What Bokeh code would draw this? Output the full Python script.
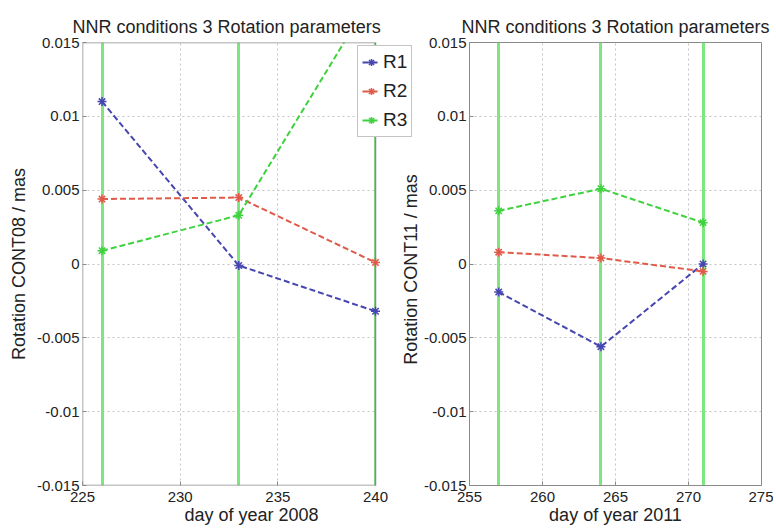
import math
from bokeh.plotting import figure
from bokeh.models import Range1d, FixedTicker, Legend, LegendItem, Label
from bokeh.layouts import row
from bokeh.embed import file_html
from bokeh.resources import INLINE

# ---- data ----
days_2008 = [226, 233, 240]
r1_2008 = [0.0110, -0.0001, -0.0032]
r2_2008 = [0.0044, 0.0045, 0.0001]
r3_2008 = [0.0009, 0.0033, 0.0185]

days_2011 = [257, 264, 271]
r1_2011 = [-0.0019, -0.0056, 0.0000]
r2_2011 = [0.0008, 0.0004, -0.0005]
r3_2011 = [0.0036, 0.0051, 0.0028]

y_ticks = [-0.015, -0.01, -0.005, 0, 0.005, 0.01, 0.015]
y_tick_labels = ["-0.015", "-0.01", "-0.005", "0", "0.005", "0.01", "0.015"]
x_ticks_2008 = [225, 230, 235, 240]
x_ticks_2011 = [255, 260, 265, 270, 275]
x_lim_2008 = (225, 240)
x_lim_2011 = (255, 275)
y_lim = (-0.015, 0.015)

title_text = "NNR conditions 3 Rotation parameters"
series_names = ["R1", "R2", "R3"]
ylabel_2008 = "Rotation CONT08 / mas"
ylabel_2011 = "Rotation CONT11 / mas"
xlabel_2008 = "day of year 2008"
xlabel_2011 = "day of year 2011"

FONT = "Liberation Sans"
C_R1 = "#4646b0"
C_R2 = "#e05a4a"
C_R3 = "#3ed23e"
C_VL = "#7fe67f"
TXT = "#222222"
FRAME = "#8a8a8a"
COLS = (C_R1, C_R2, C_R3)

FH = 443          # frame height
FW1 = 293         # visible box width of left panel
GAP = 45          # extra frame width of left panel (holds legend overhang + right y title)
FW2 = 292


def style(p, xticks):
    p.title.text_font = FONT
    p.title.text_font_size = "18px"
    p.title.text_font_style = "normal"
    p.title.text_color = TXT
    p.title.standoff = 11
    p.background_fill_color = "white"
    p.border_fill_color = "white"
    for ax, ticks in ((p.xaxis[0], xticks), (p.yaxis[0], y_ticks)):
        ax.ticker = FixedTicker(ticks=ticks)
        ax.major_label_text_font = FONT
        ax.major_label_text_font_size = "15px"
        ax.major_label_text_color = TXT
        ax.axis_label_text_font = FONT
        ax.axis_label_text_font_size = "18px"
        ax.axis_label_text_font_style = "normal"
        ax.axis_label_text_color = TXT
        ax.axis_line_color = FRAME
        ax.major_tick_line_color = FRAME
        ax.major_tick_in = 4
        ax.major_tick_out = 0
        ax.minor_tick_line_color = None
    p.yaxis[0].major_label_overrides = {t: l for t, l in zip(y_ticks, y_tick_labels)}
    p.xaxis[0].major_label_overrides = {t: str(t) for t in xticks}
    p.xaxis[0].major_label_standoff = 6
    p.xaxis[0].axis_label_standoff = 0
    p.yaxis[0].major_label_standoff = 3
    p.yaxis[0].axis_label_standoff = 5
    p.xgrid.ticker = FixedTicker(ticks=xticks)
    p.ygrid.ticker = FixedTicker(ticks=y_ticks)
    for g in (p.xgrid, p.ygrid):
        g.grid_line_color = "#c4c4c4"
        g.grid_line_dash = "2 3"
        g.grid_line_width = 1


# ---------------- left panel ----------------
px_per_day = FW1 / (x_lim_2008[1] - x_lim_2008[0])
x_end_2008 = x_lim_2008[1] + GAP / px_per_day
p1 = figure(frame_width=FW1 + GAP, frame_height=FH, output_backend="svg", toolbar_location=None,
            x_range=Range1d(x_lim_2008[0], x_end_2008), y_range=Range1d(*y_lim),
            min_border_left=82, min_border_right=0, min_border_top=42, min_border_bottom=45,
            title=title_text)
style(p1, x_ticks_2008)
p1.title.align = "left"
p1.title.offset = -10
p1.outline_line_color = None
p1.xaxis[0].axis_line_color = None
p1.yaxis[0].axis_line_color = None
p1.xaxis[0].axis_label = xlabel_2008
p1.yaxis[0].axis_label = ylabel_2008

p1.vspan(x=days_2008, line_color=C_VL, line_width=3)
lines1 = []
for vals, col in zip([r1_2008, r2_2008, r3_2008], COLS):
    lines1.append(p1.line(days_2008, vals, line_color=col, line_width=2, line_dash="6 3"))
# blank out the strip right of the axes box (it only holds the legend overhang)
p1.quad(left=[x_lim_2008[1]], right=[x_end_2008], bottom=[y_lim[0]], top=[y_lim[1]],
        fill_color="white", line_color=None)
p1.quad(left=[x_lim_2008[0]], right=[x_lim_2008[1]], bottom=[y_lim[0]], top=[y_lim[1]],
        fill_color=None, line_color=FRAME, line_width=1.5)
items = []
for name, vals, col, ln in zip(series_names, [r1_2008, r2_2008, r3_2008], COLS, lines1):
    m = p1.scatter(days_2008, vals, marker="asterisk", size=9, line_color=col, line_width=1.5)
    items.append(LegendItem(label=name, renderers=[ln, m]))

lg = Legend(items=items, location=(275, 348), margin=0, padding=4,
            spacing=5, glyph_width=18, glyph_height=24, label_height=24,
            label_standoff=3, label_text_font=FONT, label_text_font_size="19px",
            label_text_color=TXT, border_line_color=FRAME, border_line_width=1,
            background_fill_color="white", background_fill_alpha=1)
p1.add_layout(lg, "center")

# y-axis title of the right panel (sits in the gap between the two panels)
p1.add_layout(Label(x=FW1 + 35, y=216, x_units="screen", y_units="screen", text=ylabel_2011,
                    angle=math.pi / 2, text_align="center", text_baseline="middle",
                    text_font=FONT, text_font_size="18px", text_color=TXT))

# ---------------- right panel ----------------
p2 = figure(frame_width=FW2, frame_height=FH, output_backend="svg", toolbar_location=None,
            x_range=Range1d(*x_lim_2011), y_range=Range1d(*y_lim),
            min_border_left=46, min_border_right=12, min_border_top=42, min_border_bottom=45,
            title=title_text)
style(p2, x_ticks_2011)
p2.title.align = "center"
p2.outline_line_color = FRAME
p2.outline_line_width = 1
p2.xaxis[0].axis_label = xlabel_2011

p2.vspan(x=days_2011, line_color=C_VL, line_width=3)
for vals, col in zip([r1_2011, r2_2011, r3_2011], COLS):
    p2.line(days_2011, vals, line_color=col, line_width=2, line_dash="6 3")
    p2.scatter(days_2011, vals, marker="asterisk", size=9, line_color=col, line_width=1.5)

layout = row(p1, p2)
open("out.html", "w").write(file_html(layout, INLINE))
